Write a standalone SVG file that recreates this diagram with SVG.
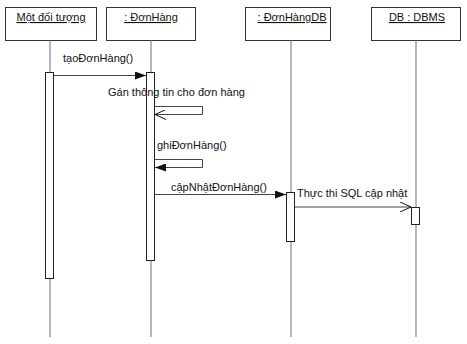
<svg xmlns="http://www.w3.org/2000/svg" width="467" height="344" viewBox="0 0 467 344">
<defs>
<style>
text{font-family:"Liberation Sans",Arial,sans-serif;font-size:11px;fill:#111}
.box{fill:#fff;stroke:#333;stroke-width:1}
.life{stroke:#888;stroke-width:1.2;fill:none}
.act{fill:#fff;stroke:#222;stroke-width:1}
.msg{stroke:#444;stroke-width:1;fill:none}
.lbl{text-decoration:underline}
</style>
<marker id="fill" markerWidth="12" markerHeight="8" refX="11" refY="4" orient="auto" markerUnits="userSpaceOnUse">
<path d="M0,0 L11,4 L0,8 Z" fill="#111"/>
</marker>
<marker id="open" markerWidth="12" markerHeight="10" refX="11" refY="5" orient="auto" markerUnits="userSpaceOnUse">
<path d="M0,0 L11,5 L0,10" fill="none" stroke="#111" stroke-width="1"/>
</marker>
</defs>
<g id="obj1">
<rect class="box" x="5.5" y="7.5" width="91" height="33"/>
<line class="life" x1="50" y1="40.5" x2="50" y2="337"/>
<text class="lbl" x="51" y="21" text-anchor="middle">Một đối tượng</text>
<rect class="act" x="45.5" y="72.5" width="8" height="206"/>
</g>
<g id="obj2">
<rect class="box" x="106.5" y="7.5" width="89" height="33"/>
<line class="life" x1="151" y1="40.5" x2="151" y2="337"/>
<text class="lbl" x="151" y="21" text-anchor="middle">: ĐơnHàng</text>
<rect class="act" x="146.5" y="72.5" width="8" height="188"/>
</g>
<g id="obj3">
<rect class="box" x="245.5" y="7.5" width="85" height="33"/>
<line class="life" x1="291" y1="40.5" x2="291" y2="337"/>
<text class="lbl" x="292" y="21" text-anchor="middle">: ĐơnHàngDB</text>
<rect class="act" x="286.5" y="192.5" width="8" height="49"/>
</g>
<g id="obj4">
<rect class="box" x="371.5" y="7.5" width="89" height="33"/>
<line class="life" x1="416" y1="40.5" x2="416" y2="337"/>
<text class="lbl" x="417" y="21" text-anchor="middle">DB : DBMS</text>
<rect class="act" x="411.5" y="207.5" width="8" height="17"/>
</g>
<g id="connectors">
<line class="msg" x1="54" y1="75.5" x2="146" y2="75.5" marker-end="url(#fill)"/>
<text x="63" y="62">tạoĐơnHàng()</text>
<polyline class="msg" points="155,106.5 202.5,106.5 202.5,114.5 155,114.5" marker-end="url(#open)"/>
<text x="108" y="96">Gán thông tin cho đơn hàng</text>
<polyline class="msg" points="155,159.5 202.5,159.5 202.5,167.5 155,167.5" marker-end="url(#fill)"/>
<text x="157" y="149">ghiĐơnHàng()</text>
<line class="msg" x1="155" y1="194.5" x2="286" y2="194.5" marker-end="url(#fill)"/>
<text x="171" y="191">cậpNhậtĐơnHàng()</text>
<line class="msg" x1="295" y1="207" x2="411" y2="207" marker-end="url(#open)"/>
<text x="297" y="197">Thực thi SQL cập nhật</text>
</g>
</svg>
